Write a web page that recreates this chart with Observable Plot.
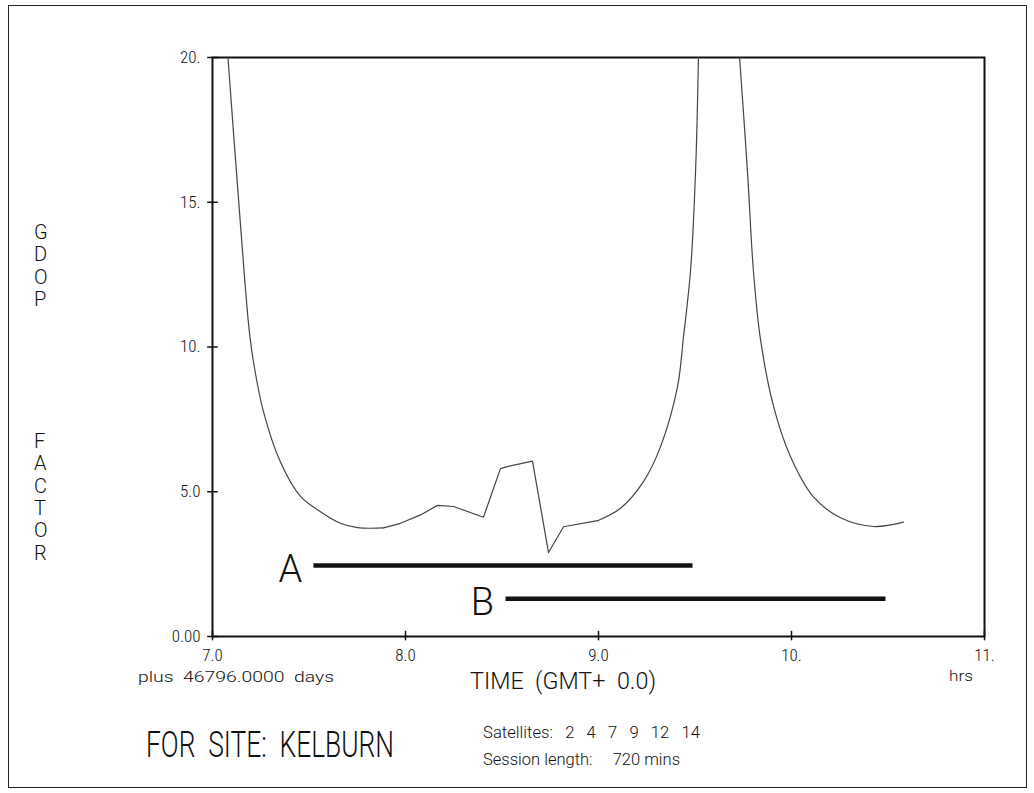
<!DOCTYPE html>
<html>
<head>
<meta charset="utf-8">
<script src="https://cdn.jsdelivr.net/npm/d3@7"></script>
<script src="https://cdn.jsdelivr.net/npm/@observablehq/plot@0.6"></script>
<style>
  html, body { margin: 0; padding: 0; background: #fff; }
  #page { position: relative; width: 1034px; height: 793px; overflow: hidden; font-family: Roboto, "DejaVu Sans", sans-serif; font-weight: 300; color: #111; }
  #page svg { position: absolute; left: 0; top: 0; }
  .lbl { position: absolute; white-space: pre; transform-origin: 0 50%; line-height: 1; }
  #border { position: absolute; left: 8px; top: 5px; width: 1019px; height: 783px; border: 1.5px solid #222; box-sizing: border-box; }
</style>
</head>
<body>
<div id="page"><div id="border"></div></div>
<script>
// ---- data ----
const timeHrs = [7.08, 7.135, 7.189, 7.212, 7.264, 7.352, 7.456, 7.544, 7.663, 7.751, 7.886, 7.974, 8.078, 8.166, 8.249, 8.404, 8.492, 8.528, 8.658, 8.741, 8.819, 8.995, 9.114, 9.233, 9.321, 9.409, 9.440, 9.477, 9.503, 9.518,
                 9.731, 9.772, 9.803, 9.839, 9.907, 9.995, 10.114, 10.254, 10.425, 10.580];
const gdop    = [20.0, 15.1, 10.65, 9.50, 7.77, 6.03, 4.84, 4.38, 3.91, 3.76, 3.75, 3.91, 4.20, 4.53, 4.49, 4.12, 5.80, 5.87, 6.06, 2.90, 3.79, 4.00, 4.43, 5.35, 6.55, 8.61, 10.33, 12.64, 16.09, 20.0,
                 20.0, 16.05, 12.6, 10.28, 7.95, 6.21, 4.82, 4.10, 3.80, 3.95];
// hours bounding the pieces of the trace (smooth / jagged / off-scale peak)
const jaggedFrom = 7.886, jaggedTo = 8.995, peakFrom = 9.518, peakTo = 9.731;

const sessionNames  = ["A", "B"];
const sessionStart  = [7.523, 8.518];
const sessionEnd    = [9.487, 10.487];
const sessionLevel  = [2.45, 1.30];

const xTicks = [7, 8, 9, 10, 11];
const xTickLabels = ["7.0", "8.0", "9.0", "10.", "11."];
const yTicks = [0, 5, 10, 15, 20];
const yTickLabels = ["0.00", "5.0", "10.", "15.", "20."];

const satellites = [2, 4, 7, 9, 12, 14];
const sessionLengthMins = 720;
const dayOffset = "46796.0000";
const siteName = "KELBURN";
const yTitleWords = ["GDOP", "FACTOR"];

// ---- build tables ----
const curve = timeHrs.map((t, i) => ({t, g: gdop[i]}));
const sessions = sessionNames.map((n, i) => ({name: n, start: sessionStart[i], end: sessionEnd[i], level: sessionLevel[i]}));
const piece = d => d.t <= jaggedFrom ? "left" : d.t <= peakFrom ? "rise" : "fall";

const tickFont = '"Liberation Sans Narrow", "Roboto Condensed", Roboto, sans-serif';

const chart = Plot.plot({
  width: 1034,
  height: 793,
  marginLeft: 212,
  marginRight: 50,
  marginTop: 57,
  marginBottom: 157,
  x: {domain: [7, 11]},
  y: {domain: [0, 20]},
  style: {fontFamily: tickFont, fontSize: "17px", color: "#111", background: "transparent", overflow: "visible"},
  marks: [
    Plot.frame({stroke: "#111", strokeWidth: 2}),
    Plot.axisX(xTicks, {tickSize: 0, tickPadding: 12, tickFormat: d => xTickLabels[xTicks.indexOf(d)], label: null}),
    Plot.axisY(yTicks, {tickSize: 0, tickPadding: 12, tickFormat: d => yTickLabels[yTicks.indexOf(d)], label: null}),
    Plot.ruleX(xTicks, {y1: -0.15, y2: 0.18, stroke: "#111", strokeWidth: 1.5}),
    Plot.ruleY(yTicks, {x1: 6.975, x2: 7.03, stroke: "#111", strokeWidth: 1.5}),
    // smooth parts of the trace
    Plot.line(curve, {filter: d => d.t <= jaggedFrom || d.t >= jaggedTo, z: piece,
                      x: "t", y: "g", stroke: "#444", strokeWidth: 1.2, curve: "catmull-rom", clip: true}),
    // jagged middle part
    Plot.line(curve, {filter: d => d.t >= jaggedFrom && d.t <= jaggedTo,
                      x: "t", y: "g", stroke: "#444", strokeWidth: 1.2, clip: true}),
    Plot.link(sessions, {x1: "start", x2: "end", y1: "level", y2: "level", stroke: "#111", strokeWidth: 4.5}),
    Plot.text(sessions, {x: "start", y: "level", text: "name", dx: -23, dy: 4, fontSize: 38, fontWeight: 300, fontFamily: "Roboto, sans-serif", fill: "#111"})
  ]
});
const page = document.getElementById("page");
page.appendChild(chart);

// ---- free text around the chart ----
function addLabel(text, left, centerY, fontSize, targetWidth) {
  const el = document.createElement("div");
  el.className = "lbl";
  el.textContent = text;
  el.style.fontSize = fontSize + "px";
  el.style.left = left + "px";
  el.style.top = (centerY - fontSize / 2) + "px";
  page.appendChild(el);
  if (targetWidth) {
    const w = el.getBoundingClientRect().width;
    el.style.transform = `scaleX(${targetWidth / w})`;
  }
  return el;
}

addLabel(`plus  ${dayOffset}  days`, 138, 677, 14, 196);
addLabel("TIME  (GMT+  0.0)", 470, 681, 23, 186);
addLabel("hrs", 949, 676, 15, 24);
addLabel(`FOR  SITE:  ${siteName}`, 146, 745, 36, 248);
addLabel(`Satellites:   ${satellites.join("   ")}`, 483, 733, 16, 217);
addLabel(`Session length:     ${sessionLengthMins} mins`, 483, 760, 16, 197);

// vertical stacked axis title
const wordTop = [232, 441], step = 22.3;
yTitleWords.forEach((w, k) => {
  [...w].forEach((ch, i) => addLabel(ch, 34, wordTop[k] + i * step, 20, null));
});
</script>
</body>
</html>
